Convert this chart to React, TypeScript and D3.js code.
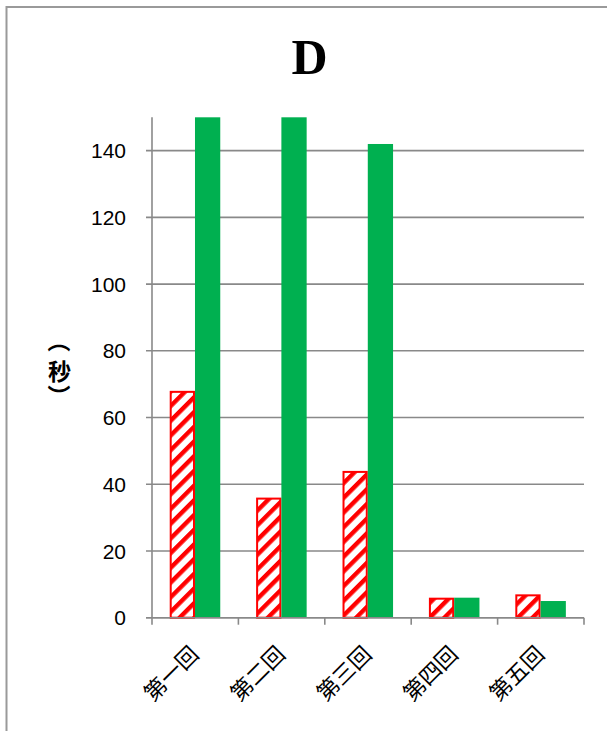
import React from "react";
import * as d3 from "d3";

const categories = ["第一回", "第二回", "第三回", "第四回", "第五回"];
const seriesKeys = ["a", "b"];
const redValues = [68, 36, 44, 6, 7];
const greenValues = [150, 150, 142, 6, 5];
const yTicks = [0, 20, 40, 60, 80, 100, 120, 140];

const W = 607;
const H = 731;
const plot = { left: 152, right: 584, top: 117.3, bottom: 617.7 };
const GRID = "#898989";
const CJK = "'Noto Sans CJK JP', sans-serif";

export default function App() {
  const x0 = d3.scaleBand<string>().domain(categories).range([plot.left, plot.right]).padding(0);
  const bw = x0.bandwidth();
  const x1 = d3.scaleBand<string>().domain(seriesKeys).range([bw * 0.205, bw * 0.79]).padding(0);
  const y = d3.scaleLinear().domain([0, 150]).range([plot.bottom, plot.top]);

  const boundaries = [...categories.map((c) => x0(c) as number), plot.right];

  // vertical axis title: parentheses turned to sit above/below the character
  const titleX = 59.5;
  const titleY = 370;
  const titleFs = 23;
  const openY = 341;
  const closeY = 396;

  return (
    <svg
      width={W}
      height={H}
      style={{ position: "absolute", left: 0, top: 0, background: "#fff" }}
    >
      <defs>
        <pattern
          id="stripes"
          width={10.4}
          height={10.4}
          patternUnits="userSpaceOnUse"
          patternTransform="rotate(45)"
        >
          <rect x={0} y={0} width={10.4} height={10.4} fill="#fff" />
          <rect x={0} y={0} width={4.4} height={10.4} fill="#ff0000" />
        </pattern>
      </defs>

      {/* chart frame */}
      <rect x={6.5} y={7} width={W} height={H} fill="none" stroke="#9a9a9a" strokeWidth={2} />

      {/* title */}
      <text
        x={309.5}
        y={74}
        textAnchor="middle"
        fontFamily="'Liberation Serif', serif"
        fontWeight="bold"
        fontSize={50}
        fill="#000"
      >
        D
      </text>

      {/* gridlines */}
      {yTicks.map((t) => (
        <line
          key={`g${t}`}
          x1={plot.left - 6}
          x2={plot.right}
          y1={y(t)}
          y2={y(t)}
          stroke={GRID}
          strokeWidth={1.6}
        />
      ))}

      {/* y axis */}
      <line x1={plot.left} x2={plot.left} y1={plot.top} y2={plot.bottom} stroke={GRID} strokeWidth={1.6} />
      {yTicks.map((t) => (
        <text
          key={`yl${t}`}
          x={126}
          y={y(t)}
          dy="0.36em"
          textAnchor="end"
          fontFamily="'Liberation Sans', Arial, sans-serif"
          fontSize={21}
          fill="#000"
        >
          {t}
        </text>
      ))}

      {/* x axis ticks */}
      {boundaries.map((bx, i) => (
        <line
          key={`xt${i}`}
          x1={bx}
          x2={bx}
          y1={plot.bottom}
          y2={plot.bottom + 7}
          stroke={GRID}
          strokeWidth={1.6}
        />
      ))}

      {/* bars */}
      {categories.map((c, i) => {
        const bx = x0(c) as number;
        const ra = bx + (x1("a") as number);
        const ga = bx + (x1("b") as number);
        const w = x1.bandwidth();
        return (
          <g key={c}>
            <rect
              x={ra + 1}
              y={y(redValues[i]) + 1}
              width={w - 2}
              height={y(0) - y(redValues[i]) - 1}
              fill="url(#stripes)"
              stroke="#ff0000"
              strokeWidth={2}
            />
            <rect
              x={ga}
              y={y(greenValues[i])}
              width={w}
              height={y(0) - y(greenValues[i])}
              fill="#00b050"
            />
          </g>
        );
      })}

      {/* x axis line on top of bars */}
      <line x1={plot.left - 6} x2={plot.right} y1={plot.bottom} y2={plot.bottom} stroke={GRID} strokeWidth={1.6} />

      {/* category labels */}
      {categories.map((c) => {
        const cx = (x0(c) as number) + bw / 2 + 5;
        const cy = plot.bottom + 38;
        return (
          <text
            key={`xl${c}`}
            x={cx}
            y={cy}
            textAnchor="end"
            transform={`rotate(-45, ${cx}, ${cy})`}
            fontFamily={CJK}
            fontSize={22}
            fill="#000"
          >
            {c}
          </text>
        );
      })}

      {/* y axis title */}
      <g fontFamily={CJK} fontWeight="bold" fontSize={titleFs} fill="#000">
        <text
          x={titleX}
          y={openY}
          textAnchor="middle"
          dominantBaseline="central"
          transform={`rotate(90, ${titleX}, ${openY})`}
        >
          （
        </text>
        <text x={titleX} y={titleY} textAnchor="middle" dominantBaseline="central">
          秒
        </text>
        <text
          x={titleX}
          y={closeY}
          textAnchor="middle"
          dominantBaseline="central"
          transform={`rotate(90, ${titleX}, ${closeY})`}
        >
          ）
        </text>
      </g>
    </svg>
  );
}
